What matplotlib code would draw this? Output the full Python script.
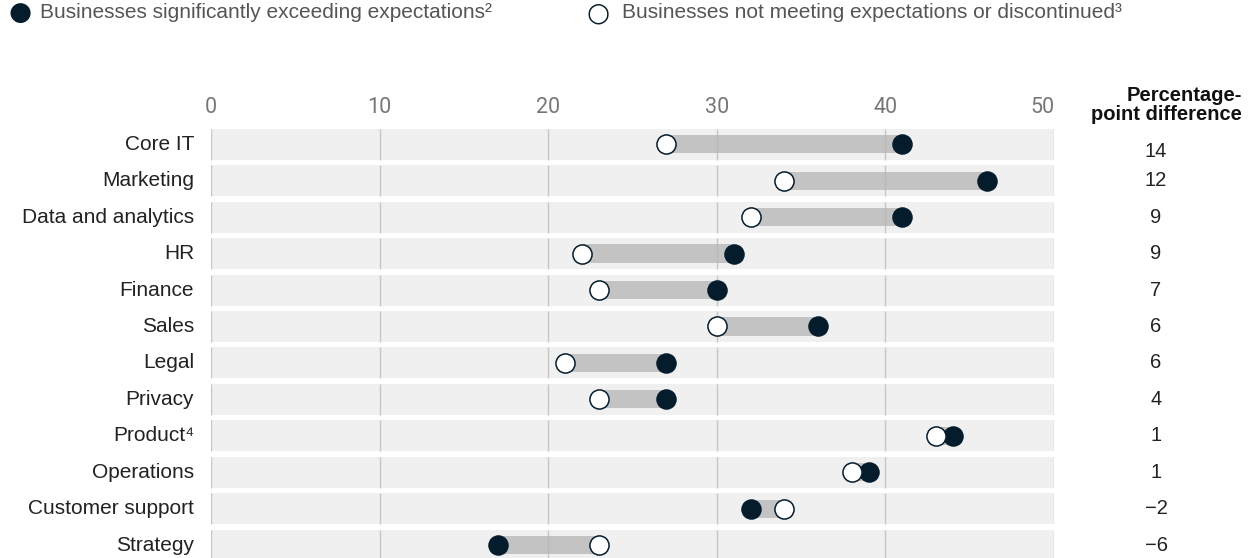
import matplotlib.pyplot as plt

plt.rcParams['font.family'] = ['Liberation Sans', 'DejaVu Sans']

functions = ['Core IT', 'Marketing', 'Data and analytics', 'HR', 'Finance', 'Sales',
             'Legal', 'Privacy', 'Product\u2074', 'Operations', 'Customer support', 'Strategy']
exceeding = [41, 46, 41, 31, 30, 36, 27, 27, 44, 39, 32, 17]
not_meeting = [27, 34, 32, 22, 23, 30, 21, 23, 43, 38, 34, 23]
ticks = [0, 10, 20, 30, 40, 50]

navy = '#051c2c'
fig = plt.figure(figsize=(12.54, 5.58), dpi=100)
# axes from 0 -> 211px to 50 -> 1054px, rows start at y=126px
ax = fig.add_axes([211 / 1254, 0, (1054 - 211) / 1254, 432 / 558])
n = len(functions)
rows = list(range(n))
ax.set_xlim(0, 50)
ax.set_ylim(-0.5 + 432 / 36.45, -0.5)
ax.axis('off')

band_h = 0.85
ax.barh(rows, 50, left=0, height=band_h, color='#f0f0f0', zorder=0)
for r, lo, hi in zip(rows, not_meeting, exceeding):
    a, b = min(lo, hi), max(lo, hi)
    ax.barh(r, b - a, left=a, height=0.5, color='#c3c3c3', zorder=1)
for t in ticks:
    for r in rows:
        ax.vlines(t, r - band_h / 2, r + band_h / 2, color='#b5b5b5', lw=1, alpha=0.7, zorder=2)

ax.scatter(exceeding, rows, s=190, color=navy, zorder=4, clip_on=False)
ax.scatter(not_meeting, rows, s=190, facecolor='white', edgecolor=navy, lw=1.1, zorder=4,
           clip_on=False)

for t in ticks:
    ax.text(t + (0.0 if t < 50 else 0.05), -0.72, str(t), ha='center' if t < 50 else 'right',
            va='bottom', fontsize=15.5, color='#777777',
            family=['Roboto', 'DejaVu Sans'])
for r, name in zip(rows, functions):
    ax.text(-1.0, r, name, ha='right', va='center', fontsize=15, color='#222222')
for r, lo, hi in zip(rows, not_meeting, exceeding):
    d = hi - lo
    label = str(d) if d >= 0 else '\u2212' + str(-d)
    ax.text(56.05, r + (0.2 if r == 0 else 0.0), label, ha='center', va='center',
            fontsize=14.5, color='#222222')

fig.text(1242 / 1254, 1 - 86 / 558, 'Percentage-\npoint difference', ha='right', va='top',
         fontsize=14.5, fontweight='bold', color='#111111', linespacing=1.0,
         multialignment='right')

# legend
fig.text(20 / 1254, 1 - 13 / 558, '\u25cf', ha='center', va='center', fontsize=19, color=navy,
         family='DejaVu Sans')
fig.text(40 / 1254, 1 - 13 / 558, 'Businesses significantly exceeding expectations\u00b2',
         ha='left', va='center', fontsize=15, color='#555555')
fig.text(598 / 1254, 1 - 13 / 558, '\u25cb', ha='center', va='center', fontsize=19, color=navy,
         family='DejaVu Sans')
fig.text(622 / 1254, 1 - 13 / 558, 'Businesses not meeting expectations or discontinued\u00b3',
         ha='left', va='center', fontsize=15, color='#555555')

fig.savefig('out.png', dpi=100)
